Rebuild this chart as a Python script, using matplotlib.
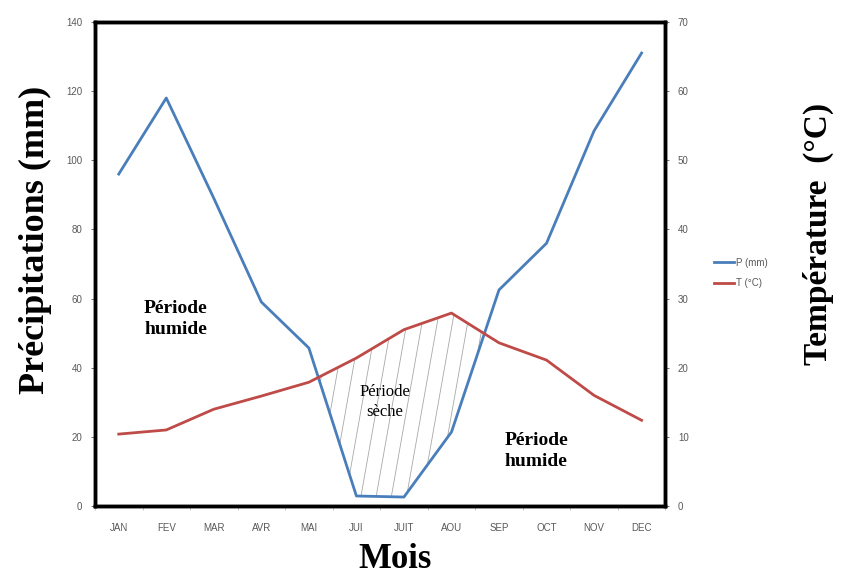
import numpy as np
import matplotlib
matplotlib.use("Agg")
import matplotlib.pyplot as plt

# Data
mois = ['JAN', 'FEV', 'MAR', 'AVR', 'MAI', 'JUI', 'JUIT', 'AOU', 'SEP', 'OCT', 'NOV', 'DEC']
precip = [96, 118, 89, 59, 45.7, 2.9, 2.6, 21.4, 62.5, 76, 108.5, 131]
temp = [10.4, 11, 14, 15.9, 17.9, 21.4, 25.5, 27.9, 23.6, 21.1, 16, 12.4]

serif = 'Liberation Serif'
sans = 'Liberation Sans'
tick_col = '#595959'

fig = plt.figure(figsize=(8.45, 5.77), dpi=100)
ax = fig.add_axes([0.1124, 0.123, 0.675, 0.839])
ax2 = ax.twinx()

x = np.arange(len(mois))
p = np.array(precip)
t = np.array(temp)

# Dry period (P < 2T): invisible fill used as clip for steep hatch lines
dry = ax.fill_between(x, p, 2 * t, where=p < 2 * t, interpolate=True,
                      facecolor='none', edgecolor='none', linewidth=0)
for x0 in np.arange(2.5, 8.5, 0.32):
    ln, = ax.plot([x0, x0 + 1.8], [0, 140], color='#a8a8a8', lw=0.6)
    ln.set_clip_path(dry.get_paths()[0], ax.transData)

ax.plot(x, p, color='#4a7ebb', lw=2, label='P (mm)')
ax2.plot(x, t, color='#be4b48', lw=2, label='T (°C)')

ax.set_xlim(-0.5, 11.5)
ax.set_ylim(0, 140)
ax2.set_ylim(0, 70)
ax.set_yticks(np.arange(0, 141, 20))
ax2.set_yticks(np.arange(0, 71, 10))
ax.set_xticks(x)
ax.set_xticklabels(mois)
ax.set_xticks(np.arange(-0.5, 12, 1), minor=True)

for a in (ax, ax2):
    for s in a.spines.values():
        s.set_linewidth(2.5)
    a.tick_params(axis='y', labelsize=7, colors=tick_col, length=3, width=0.6, pad=6)
    for lab in a.get_yticklabels():
        lab.set_fontfamily(sans)
ax.tick_params(axis='x', which='major', length=0, labelsize=7, colors=tick_col, pad=12)
ax.tick_params(axis='x', which='minor', length=3, width=0.6, colors='#bbbbbb')
for lab in ax.get_xticklabels():
    lab.set_fontfamily(sans)

fig.text(0.042, 0.585, 'Précipitations (mm)', rotation=90, fontsize=26, fontweight='bold',
         family=serif, ha='center', va='center')
fig.text(0.968, 0.595, 'Température  (°C)', rotation=90, fontsize=24, fontweight='bold',
         family=serif, ha='center', va='center')
fig.text(0.468, 0.016, 'Mois', fontsize=25, fontweight='bold', family=serif,
         ha='center', va='baseline')

ax.text(1.2, 54, 'Période\nhumide', fontsize=14, fontweight='bold', family=serif,
        ha='center', va='center', linespacing=1.3)
ax.text(8.78, 16, 'Période\nhumide', fontsize=14, fontweight='bold', family=serif,
        ha='center', va='center', linespacing=1.3)
ax.text(5.6, 30, 'Période\nsèche', fontsize=12, family=serif,
        ha='center', va='center', linespacing=1.3)

h1, l1 = ax.get_legend_handles_labels()
h2, l2 = ax2.get_legend_handles_labels()
leg = fig.legend(h1 + h2, l1 + l2, loc='center left', bbox_to_anchor=(0.835, 0.527),
                 frameon=False, fontsize=7, handlelength=2.0, handletextpad=0.2,
                 labelspacing=1.1)
for txt in leg.get_texts():
    txt.set_color(tick_col)
    txt.set_fontfamily(sans)

fig.savefig('out.png', dpi=100)
